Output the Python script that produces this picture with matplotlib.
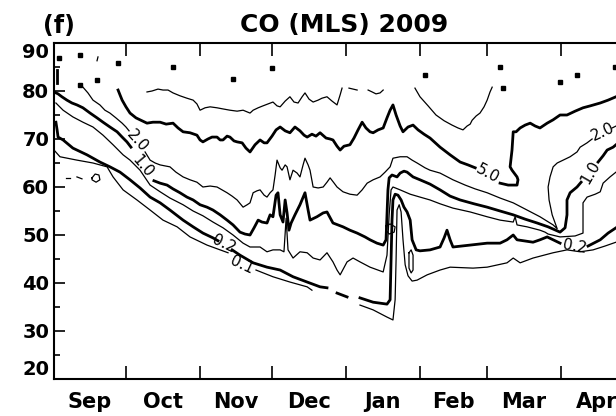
import matplotlib.pyplot as plt

# Meses de la temporada (dias contados desde el 1 de septiembre de 2009)
meses = ['Sep', 'Oct', 'Nov', 'Dec', 'Jan', 'Feb', 'Mar', 'Apr']
inicio_mes = [0, 30, 61, 91, 122, 153, 181, 212, 242]
alturas = [20, 30, 40, 50, 60, 70, 80, 90]

# Isolineas de CO, cada tramo es (dias, altura km)
co_10 = [
    ([38.9, 41.0, 43.5, 45.6, 47.7, 49.8, 52.7, 55.6, 58.2, 59.8, 61.1, 63.2, 65.3, 68.2,
      70.3, 73.6, 76.6, 79.1, 82.0, 83.3, 85.4, 87.4, 89.5, 91.6, 93.3, 94.6, 96.7, 98.7,
      100.4, 102.1, 103.8, 105.0, 106.7, 108.4, 110.5, 112.1, 114.2, 116.3, 118.4, 119.7, 120.5],
     [79.8, 80.0, 80.4, 80.2, 80.2, 79.6, 79.0, 78.5, 78.1, 77.3, 76.0, 76.5, 76.7, 76.5,
      76.3, 76.0, 75.8, 76.0, 75.4, 76.0, 76.5, 76.9, 77.3, 77.7, 76.9, 76.7, 77.9, 78.8,
      77.7, 77.5, 78.8, 79.6, 78.3, 77.7, 78.1, 78.5, 78.8, 77.9, 77.1, 79.2, 80.6]),
    ([123.4, 125.1, 126.8], [80.6, 80.4, 80.2]),
    ([131.4, 133.1, 134.7, 136.4, 137.7], [80.2, 79.8, 79.4, 79.6, 80.2]),
    ([151.0, 153.1, 156.5, 159.8, 163.2, 166.5, 169.0, 171.1, 172.8, 174.1, 174.9, 176.6,
      178.2, 179.9, 181.2, 182.4, 183.3],
     [80.6, 78.8, 76.9, 75.0, 73.8, 72.9, 72.3, 71.9, 72.7, 73.1, 73.9, 74.8,
      75.4, 76.7, 78.1, 79.8, 80.8]),
    ([18.4, 18.0], [87.1, 86.3]),
]
# Puntos sueltos del nivel 10.0 cerca del tope
puntos_dia = [2.1, 10.9, 26.8, 18.0, 49.8, 74.9, 91.2, 155.2, 186.6, 187.9, 211.7, 218.8, 234.7, 10.9]
puntos_alt = [86.9, 87.5, 85.8, 82.3, 85.0, 82.5, 84.8, 83.3, 85.0, 80.6, 81.9, 83.3, 85.0, 81.3]

co_5 = [
    ([26.8, 27.6, 28.5, 30.1, 31.8, 34.3, 36.8, 38.9, 41.4, 44.4, 46.9, 49.8, 51.9, 54.0,
      56.9, 59.8, 61.1, 62.3, 64.4, 66.1, 68.2, 69.5, 70.7, 72.4, 73.6, 75.3, 76.6, 78.7,
      80.3, 82.0, 84.1, 86.2, 87.9, 89.1, 91.2, 92.9, 94.6, 96.7, 98.7, 100.8, 102.9, 104.6,
      105.9, 107.9, 109.6, 111.3, 113.8, 115.5, 116.7, 118.4, 119.7, 121.3, 123.8, 125.5,
      127.2, 128.9, 130.5, 132.2, 133.5, 135.6, 137.7, 139.3, 140.6, 141.8, 143.1, 144.8,
      146.0, 148.1, 150.2, 152.3, 154.8, 157.3, 161.5, 165.7, 169.9, 173.2, 176.2],
     [80.2, 79.2, 78.1, 76.7, 75.4, 74.4, 73.8, 73.3, 73.5, 73.5, 73.1, 73.3, 72.3, 71.5,
      71.3, 70.8, 69.8, 69.4, 70.0, 70.4, 70.4, 69.8, 69.8, 70.6, 70.4, 69.6, 69.4, 69.2,
      68.1, 67.3, 68.8, 69.8, 69.2, 69.2, 70.6, 71.9, 72.5, 71.7, 71.3, 72.5, 71.7, 70.8,
      70.4, 71.0, 70.6, 71.3, 70.2, 70.0, 69.8, 68.5, 67.7, 68.5, 68.8, 70.2,
      71.9, 73.5, 72.3, 71.5, 71.3, 71.9, 72.3, 74.4, 76.0, 77.1, 75.0, 72.7,
      71.5, 72.5, 72.9, 71.9, 71.0, 70.2, 68.3, 66.7, 65.2, 64.6, 64.0]),
    ([186.6, 190.0, 193.7, 194.1, 193.7, 191.6, 190.8, 191.6, 192.1, 193.3, 195.0, 197.1,
      199.2, 201.3, 203.3, 206.3, 208.8, 211.7, 214.6, 218.0, 221.3, 224.3, 228.5, 231.8, 235.1],
     [60.8, 60.4, 60.4, 61.5, 62.1, 63.5, 64.2, 67.7, 71.5, 71.5, 72.3, 72.9,
      73.3, 72.7, 72.3, 73.3, 74.0, 75.0, 75.0, 75.8, 76.5, 76.9, 77.5, 78.1, 78.8]),
]

co_2 = [
    ([12.1, 14.2, 16.3, 19.2, 21.3, 23.4, 25.9, 28.5, 30.1, 31.4],
     [80.8, 79.6, 78.1, 77.1, 76.0, 75.4, 74.4, 73.3, 72.5, 71.7]),
    ([38.1, 40.2, 42.3, 44.4, 46.4, 48.5, 51.0, 54.0, 56.9, 59.8, 62.3, 65.3, 68.2, 70.3,
      72.4, 74.5, 76.6, 79.1, 80.8, 82.0, 83.3, 84.9, 86.2, 87.9, 89.1, 90.4, 91.6, 92.5,
      93.3, 94.6, 95.4, 96.7, 97.5, 98.7, 100.0, 101.7, 102.9, 104.2, 105.0, 106.3, 107.1,
      108.4, 110.5, 112.6, 114.2, 115.5, 117.2, 118.4, 120.9, 123.8, 126.8, 128.9, 131.0,
      133.5, 136.4, 138.5, 140.6, 141.8, 144.8, 147.7, 149.8, 151.9, 155.2, 157.3, 161.5,
      166.9, 172.0, 176.2, 181.2, 186.6, 192.1, 197.9, 203.3, 208.8, 210.5, 208.4, 207.1,
      206.7, 207.5, 208.8, 210.5, 213.0, 215.9, 218.8, 220.1, 223.0, 225.1],
     [67.3, 65.6, 65.0, 64.6, 64.4, 64.2, 63.1, 62.1, 61.5, 61.0, 60.0, 60.2, 60.0, 59.4,
      58.8, 58.1, 57.3, 55.8, 56.3, 56.7, 58.8, 59.2, 59.4, 58.3, 57.9, 58.8, 59.4, 62.5,
      65.6, 64.0, 63.5, 64.6, 64.2, 61.5, 63.5, 62.9, 62.1, 64.6, 66.0, 64.6, 63.5,
      60.0, 59.8, 60.0, 61.0, 61.9, 60.8, 60.0, 59.0, 58.5, 58.3, 59.4, 60.8,
      61.5, 62.1, 63.1, 64.2, 66.0, 66.3, 66.3, 65.6, 65.0, 64.0, 63.5, 62.9,
      61.5, 60.4, 59.6, 58.8, 57.7, 56.7, 55.2, 53.8, 52.1, 51.3, 54.2, 57.3,
      60.0, 62.1, 64.2, 65.0, 65.6, 66.3, 67.3, 68.3, 69.2, 70.0]),
    ([233.5, 235.1], [72.3, 72.7]),
]

co_1 = [
    ([0.0, 1.7, 3.3, 5.4, 7.5, 9.6, 12.1, 15.1, 18.0, 20.5, 23.4, 26.4, 28.5, 30.5, 32.2],
     [79.8, 79.4, 78.8, 78.1, 77.5, 77.1, 76.5, 75.4, 74.4, 73.5, 72.5, 71.5, 70.4, 69.4, 68.3]),
    ([41.8, 44.4, 47.3, 49.8, 52.7, 55.6, 58.2, 61.1, 64.0, 66.5, 69.5, 72.4, 74.9, 77.8,
      79.9, 82.0, 83.7, 85.4, 87.0, 89.1, 90.4, 91.6, 92.9, 93.7, 94.6, 95.8, 96.7, 97.5,
      98.3, 99.2, 100.8, 102.9, 105.0, 106.3, 107.1, 110.0, 112.6, 114.2, 116.7, 120.9,
      123.8, 126.8, 130.1, 132.2, 135.1, 137.7, 138.9, 139.3, 139.7, 140.2, 141.4, 143.5,
      144.8, 146.4, 147.7, 150.2, 153.1, 157.3, 161.5, 165.7, 169.9, 175.7, 181.2, 186.6,
      192.1, 197.1, 202.1, 206.7, 211.7, 213.8, 214.6, 214.6, 215.9, 218.8, 220.5],
     [61.3, 60.8, 60.4, 59.6, 58.8, 57.9, 57.3, 56.3, 55.8, 55.2, 54.2, 53.1, 52.1, 50.6,
      50.2, 50.0, 51.5, 53.1, 52.7, 52.5, 54.2, 53.8, 58.3, 58.8, 54.2, 52.7, 57.3, 54.6,
      51.0, 52.5, 54.2, 56.3, 58.8, 55.2, 53.1, 53.8, 54.6, 54.8, 52.5, 51.7,
      51.0, 50.4, 49.6, 49.0, 48.3, 47.9, 49.0, 54.2, 59.4, 61.9, 62.5, 62.1,
      62.9, 63.3, 63.1, 62.1, 61.5, 60.6, 59.4, 58.1, 57.3, 56.5, 55.8, 55.0,
      54.2, 53.3, 52.5, 51.7, 50.6, 51.5, 54.2, 57.3, 58.8, 60.0, 61.0]),
    ([227.6, 229.7, 231.4, 233.9, 235.1], [65.2, 66.5, 67.7, 68.3, 68.8]),
]

co_05 = [
    ([0.8, 3.8, 7.9, 12.1, 16.3, 20.5, 24.7, 28.9, 31.8, 36.0, 40.2, 44.4, 48.5, 54.0,
      58.2, 62.3, 66.5, 70.7, 74.9, 79.1, 82.0, 86.2, 89.1, 91.6, 94.6, 96.2, 97.1, 97.9,
      100.0, 102.9, 105.9, 108.4, 111.3, 114.2, 116.7, 118.4, 119.7, 122.6, 125.1, 128.0,
      132.2, 137.7, 139.3, 140.2, 141.0, 141.8, 144.8, 149.0, 153.1, 157.3, 161.5, 166.9,
      174.1, 181.2, 186.6, 192.1, 192.9, 193.7, 197.9, 203.3, 205.4, 206.7, 211.7, 218.0,
      221.3, 221.3, 221.3, 223.0, 226.4, 228.5, 229.7, 232.6, 235.1],
     [77.5, 76.0, 74.6, 73.5, 72.5, 70.8, 68.8, 66.7, 65.6, 63.5, 60.4, 59.0, 57.7, 56.3,
      55.0, 54.0, 52.7, 51.5, 50.0, 48.3, 47.5, 47.5, 46.5, 46.9, 46.9, 46.5, 53.5, 46.9,
      45.2, 46.5, 46.3, 45.2, 44.8, 46.3, 44.4, 42.7, 41.7, 44.4, 45.2, 44.4,
      43.3, 42.3, 45.8, 54.2, 59.4, 60.0, 59.4, 58.5, 57.9, 57.3, 56.5, 55.6,
      54.8, 53.8, 53.1, 52.7, 53.8, 52.1, 51.7, 51.0, 50.6, 50.2, 49.6, 49.8,
      50.4, 54.2, 56.7, 57.9, 58.5, 59.0, 60.8, 62.1, 63.1]),
    # pequenos lazos cerca de la izquierda
    ([15.9, 17.2, 18.8, 19.2, 17.6, 15.9, 15.9], [61.9, 62.7, 62.5, 61.5, 61.0, 61.5, 61.9]),
    ([5.0, 6.7], [61.9, 61.9]),
    ([9.6, 11.7], [62.1, 61.7]),
    # lazo de la intrusion de enero
    ([138.9, 140.6, 142.7, 142.3, 140.2, 138.9, 138.9], [51.9, 52.3, 51.7, 50.6, 50.2, 51.0, 51.9]),
]

co_02 = [
    ([0.8, 1.3, 1.7, 3.8, 7.9, 13.8, 19.2, 23.4, 27.6, 31.8, 36.0, 40.2, 44.4, 48.5,
      54.0, 58.2, 62.3, 66.5, 68.6],
     [73.5, 71.9, 70.4, 69.8, 68.1, 66.7, 65.2, 64.2, 63.1, 61.5, 59.8, 57.9, 56.7, 55.2,
      53.1, 51.7, 50.4, 49.4, 48.8]),
    ([74.5, 77.8, 83.3, 89.1, 94.6, 100.0, 105.9, 111.3, 114.2],
     [46.9, 45.8, 44.2, 43.3, 42.7, 41.3, 40.2, 39.2, 39.0]),
    ([118.4, 122.6], [37.9, 37.1]),
    ([128.0, 133.5, 139.3, 140.6, 141.0, 141.4, 141.8, 142.7, 143.9, 145.2, 146.4, 147.7,
      149.0, 149.8, 151.5, 153.1, 157.3, 161.5, 163.2, 164.4, 165.7, 166.9, 174.1, 181.2,
      186.6, 189.5, 192.1, 193.7, 200.4, 203.3, 206.3, 208.8, 211.7],
     [36.9, 36.0, 35.6, 36.5, 44.8, 53.1, 57.3, 58.5, 58.3, 57.3, 55.8, 54.8,
      53.1, 49.0, 46.9, 46.7, 46.9, 47.5, 49.4, 51.0, 49.0, 47.5, 47.9, 48.3,
      48.3, 49.0, 50.0, 49.0, 48.5, 49.0, 49.6, 49.0, 48.3]),
    ([223.4, 228.5, 231.8, 235.1], [47.7, 49.0, 50.4, 51.5]),
]

co_01 = [
    ([0.0, 2.5, 9.6, 16.3, 22.2, 24.7, 28.9, 34.7, 40.2, 45.6, 51.5, 56.9, 64.0, 69.5, 72.8],
     [67.7, 66.3, 65.6, 65.0, 64.2, 62.1, 59.4, 57.3, 55.2, 53.1, 51.7, 49.6, 47.9, 46.9, 46.3]),
    ([84.5, 91.6, 98.7, 105.9, 107.9], [42.7, 41.3, 40.2, 39.2, 38.5]),
    ([128.0, 133.5, 139.3, 141.8, 142.7, 143.1, 143.5, 144.4, 145.2, 146.0, 146.9, 148.1,
      149.8, 151.9, 156.1, 161.5, 165.7, 175.3, 181.2, 189.5, 192.1, 195.0, 200.4, 208.8,
      214.6, 220.1, 225.5, 230.5, 235.1],
     [35.4, 34.4, 32.9, 32.3, 36.5, 44.8, 55.2, 56.3, 54.8, 49.0, 43.8, 41.5,
      40.4, 40.6, 41.7, 42.7, 43.3, 43.1, 43.3, 44.2, 45.2, 44.2, 45.2, 46.3,
      46.9, 46.5, 46.9, 47.7, 48.5]),
    ([148.5, 149.4, 150.2, 150.2, 149.4, 148.5, 148.5], [46.3, 46.9, 45.8, 42.7, 42.1, 43.1, 46.3]),
]

# Etiquetas de las isolineas: (texto, dia, altura, giro)
etiquetas = [
    ('2.0', 34.7, 69.6, -48), ('1.0', 37.2, 64.4, -50),
    ('0.2', 71.1, 48.1, -25), ('0.1', 78.7, 43.8, -25),
    ('5.0', 181.6, 62.7, -28), ('0.2', 217.6, 47.5, -10),
    ('2.0', 229.7, 71.5, 25), ('1.0', 224.3, 63.1, 60),
]

fig = plt.figure(figsize=(6.16, 4.16), dpi=100)
ax = fig.add_axes([54 / 616, 37 / 416, 562 / 616, 336 / 416])

# Lineas finas y gruesas alternadas como en el original
for dias, alt in co_10 + co_2 + co_05 + co_01:
    ax.plot(dias, alt, color='black', lw=0.9)
for dias, alt in co_5 + co_1 + co_02:
    ax.plot(dias, alt, color='black', lw=2.0)
ax.plot(puntos_dia, puntos_alt, 's', color='black', ms=2.2)
ax.plot([1.3, 1.3], [84.4, 81.7], color='black', lw=2.0)

for txt, x, y, rot in etiquetas:
    ax.text(x, y, txt, rotation=rot, ha='center', va='center', fontsize=11,
            rotation_mode='anchor')

ax.set_xlim(0, 235.1)
ax.set_ylim(20, 90)

# Marcas en el cambio de mes y nombres centrados en cada mes
centros = [(inicio_mes[i] + inicio_mes[i + 1]) / 2 for i in range(len(meses))]
ax.set_xticks(inicio_mes[1:-1])
ax.set_xticklabels([])
ax.set_xticks(centros, minor=True)
ax.set_xticklabels(meses, minor=True, fontsize=15, fontweight='bold')
ax.tick_params(axis='x', which='major', direction='in', length=9.5, width=1.2,
               top=True, bottom=True)
ax.tick_params(axis='x', which='minor', length=0, pad=9)

ax.set_yticks(alturas)
ax.set_yticks(range(25, 90, 10), minor=True)
ax.set_yticklabels([str(a) for a in alturas], fontsize=14, fontweight='bold')
ax.tick_params(axis='y', which='major', direction='in', length=8, width=1.2, pad=3.5)
ax.tick_params(axis='y', which='minor', direction='in', length=4, width=1.2)
etq_y = ax.get_yticklabels()
etq_y[0].set_va('bottom')
etq_y[-1].set_va('top')

for lado in ['left', 'bottom', 'top']:
    ax.spines[lado].set_linewidth(1.5)
ax.spines['right'].set_visible(False)

fig.text(344 / 616, 1 - 32 / 416, 'CO (MLS) 2009', ha='center', va='baseline',
         fontsize=18, fontweight='bold')
fig.text(43 / 616, 1 - 33 / 416, '(f)', ha='left', va='baseline',
         fontsize=17, fontweight='bold')

fig.savefig('out.png', dpi=100)
